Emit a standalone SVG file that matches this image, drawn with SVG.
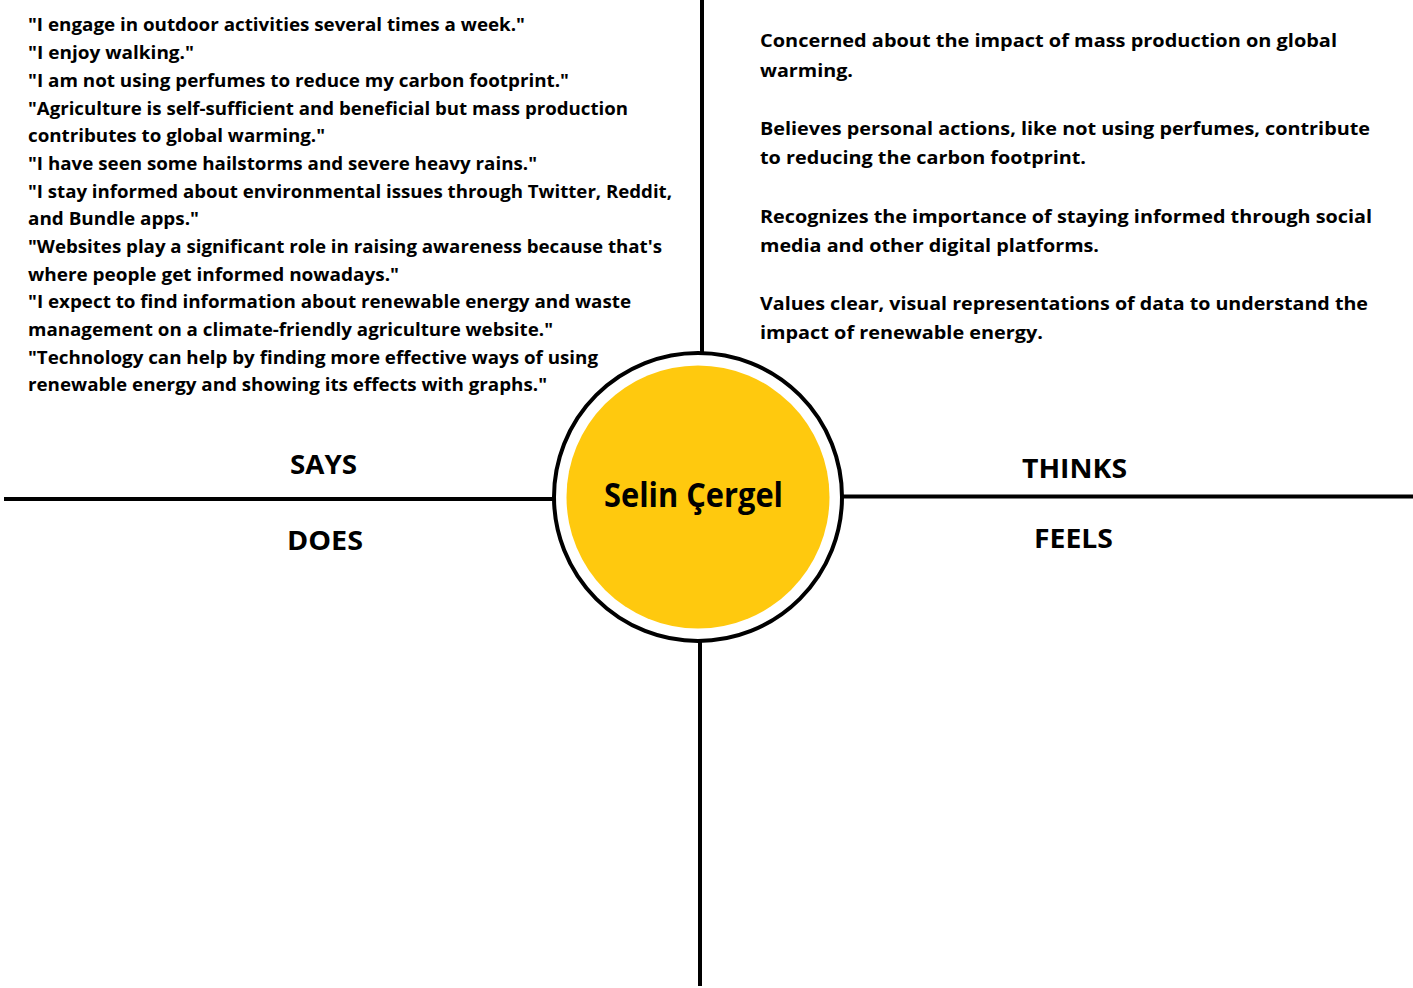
<svg xmlns="http://www.w3.org/2000/svg" width="1413" height="988" viewBox="0 0 1413 988">
  <style>
    .body { font-family: "Open Sans", "Liberation Sans", sans-serif; font-weight: 700; font-size: 18.5px; fill: #000; }
    .label { font-family: "Open Sans", "Liberation Sans", sans-serif; font-weight: 700; font-size: 26.5px; fill: #000; }
    .name { font-family: "Open Sans", "Liberation Sans", sans-serif; font-weight: 700; font-size: 34px; fill: #000; }
    .axis { stroke: #000; stroke-width: 4; fill: none; }
  </style>
  <rect width="1413" height="988" fill="#fff"/>

  <!-- quadrant axes -->
  <g id="connectors">
    <line class="axis" x1="702" y1="0" x2="702" y2="354"/>
    <line class="axis" x1="700" y1="640" x2="700" y2="986"/>
    <line class="axis" x1="4" y1="499" x2="554" y2="499"/>
    <line class="axis" x1="842" y1="496.5" x2="1413" y2="496.5"/>
  </g>

  <!-- central persona -->
  <g id="persona">
    <circle cx="698" cy="497" r="144" fill="#fff" stroke="#000" stroke-width="4"/>
    <circle cx="698" cy="497" r="131.5" fill="#FFC90E"/>
    <text class="name" x="604" y="507" textLength="179" lengthAdjust="spacingAndGlyphs">Selin Çergel</text>
  </g>

  <!-- quadrant labels -->
  <g id="says-label"><text class="label" x="290" y="474" textLength="67" lengthAdjust="spacingAndGlyphs">SAYS</text></g>
  <g id="does-label"><text class="label" x="287" y="550" textLength="76" lengthAdjust="spacingAndGlyphs">DOES</text></g>
  <g id="thinks-label"><text class="label" x="1022" y="478" textLength="105" lengthAdjust="spacingAndGlyphs">THINKS</text></g>
  <g id="feels-label"><text class="label" x="1034" y="548" textLength="79" lengthAdjust="spacingAndGlyphs">FEELS</text></g>

  <!-- SAYS quotes -->
  <g id="says" class="body">
    <text x="28" y="31" textLength="497" lengthAdjust="spacingAndGlyphs">"I engage in outdoor activities several times a week."</text>
    <text x="28" y="59" textLength="166" lengthAdjust="spacingAndGlyphs">"I enjoy walking."</text>
    <text x="28" y="87" textLength="541" lengthAdjust="spacingAndGlyphs">"I am not using perfumes to reduce my carbon footprint."</text>
    <text x="28" y="115" textLength="600" lengthAdjust="spacingAndGlyphs">"Agriculture is self-sufficient and beneficial but mass production</text>
    <text x="28" y="142" textLength="297" lengthAdjust="spacingAndGlyphs">contributes to global warming."</text>
    <text x="28" y="170" textLength="509" lengthAdjust="spacingAndGlyphs">"I have seen some hailstorms and severe heavy rains."</text>
    <text x="28" y="198" textLength="644" lengthAdjust="spacingAndGlyphs">"I stay informed about environmental issues through Twitter, Reddit,</text>
    <text x="28" y="225" textLength="171" lengthAdjust="spacingAndGlyphs">and Bundle apps."</text>
    <text x="28" y="253" textLength="634" lengthAdjust="spacingAndGlyphs">"Websites play a significant role in raising awareness because that's</text>
    <text x="28" y="281" textLength="371" lengthAdjust="spacingAndGlyphs">where people get informed nowadays."</text>
    <text x="28" y="308" textLength="603" lengthAdjust="spacingAndGlyphs">"I expect to find information about renewable energy and waste</text>
    <text x="28" y="336" textLength="525" lengthAdjust="spacingAndGlyphs">management on a climate-friendly agriculture website."</text>
    <text x="28" y="364" textLength="570" lengthAdjust="spacingAndGlyphs">"Technology can help by finding more effective ways of using</text>
    <text x="28" y="391" textLength="519" lengthAdjust="spacingAndGlyphs">renewable energy and showing its effects with graphs."</text>
  </g>

  <!-- THINKS notes -->
  <g id="thinks" class="body">
    <text x="760" y="47" textLength="577" lengthAdjust="spacingAndGlyphs">Concerned about the impact of mass production on global</text>
    <text x="760" y="77" textLength="93" lengthAdjust="spacingAndGlyphs">warming.</text>
    <text x="760" y="135" textLength="610" lengthAdjust="spacingAndGlyphs">Believes personal actions, like not using perfumes, contribute</text>
    <text x="760" y="164" textLength="326" lengthAdjust="spacingAndGlyphs">to reducing the carbon footprint.</text>
    <text x="760" y="223" textLength="612" lengthAdjust="spacingAndGlyphs">Recognizes the importance of staying informed through social</text>
    <text x="760" y="252" textLength="339" lengthAdjust="spacingAndGlyphs">media and other digital platforms.</text>
    <text x="760" y="310" textLength="608" lengthAdjust="spacingAndGlyphs">Values clear, visual representations of data to understand the</text>
    <text x="760" y="339" textLength="283" lengthAdjust="spacingAndGlyphs">impact of renewable energy.</text>
  </g>
</svg>
